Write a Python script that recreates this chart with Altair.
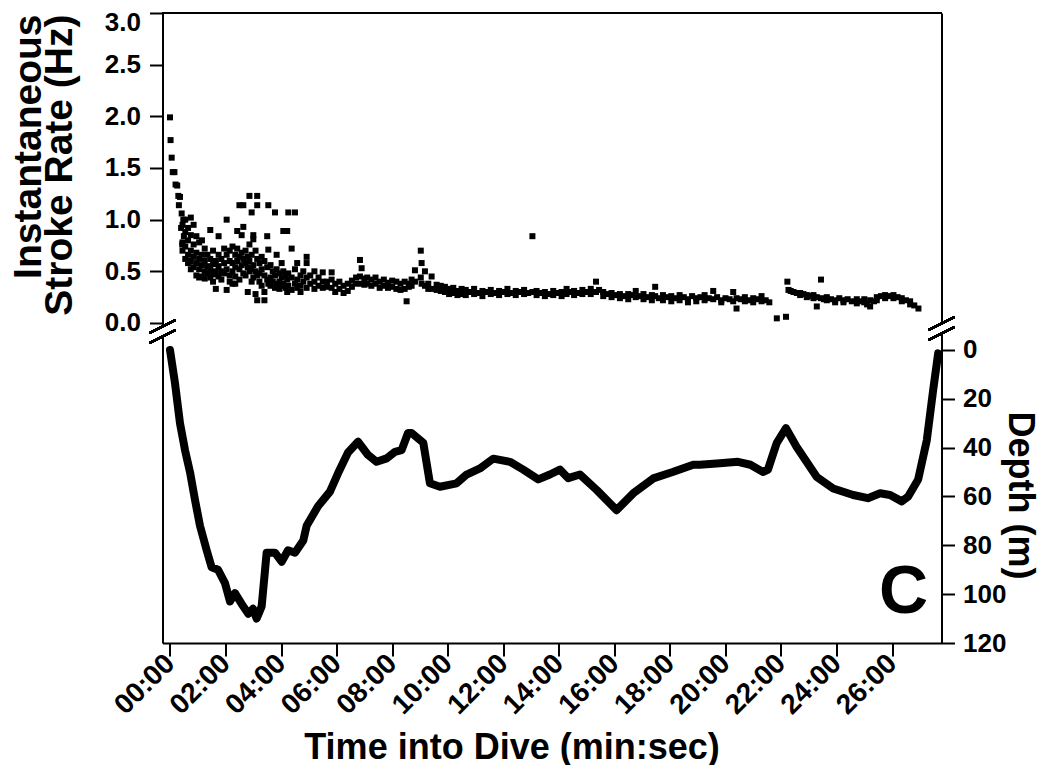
import altair as alt
import pandas as pd

# ---------------- data ----------------
# time in minutes into dive, stroke rate in Hz (grouped: time -> rates)
stroke_early = [
    (0.00, [1.99]), (0.02, [1.77]), (0.06, [1.60]), (0.10, [1.46]), (0.16, [1.46]),
    (0.20, [1.34]), (0.26, [1.33]), (0.30, [1.23]), (0.36, [1.22]), (0.32, [1.14]),
    (0.42, [1.06]), (0.48, [1.00]), (0.40, [0.92]), (0.50, [0.84]), (0.44, [0.76]),
    (0.45, [0.95, 0.78, 0.70]), (0.55, [1.00, 0.88, 0.74, 0.62]),
    (0.65, [0.92, 0.80, 0.66, 0.58]), (0.75, [1.02, 0.85, 0.70, 0.60, 0.52]),
    (0.85, [0.95, 0.76, 0.64, 0.54]), (0.95, [0.84, 0.68, 0.58, 0.46]),
    (1.05, [0.78, 0.62, 0.52, 0.44]), (1.15, [0.80, 0.66, 0.56, 0.45]),
    (1.25, [0.72, 0.60, 0.50, 0.43]), (1.35, [0.66, 0.55, 0.48]),
    (1.45, [0.90, 0.62, 0.52, 0.44]), (1.55, [0.70, 0.57, 0.47, 0.40]),
    (1.65, [0.60, 0.50, 0.33]), (1.75, [0.84, 0.66, 0.55, 0.45]),
    (1.85, [0.62, 0.50, 0.42]), (1.95, [0.72, 0.58, 0.48]),
    (2.04, [1.00, 0.66, 0.52, 0.32]), (2.15, [0.70, 0.60, 0.46, 0.40]),
    (2.25, [0.74, 0.58, 0.50, 0.38]), (2.35, [0.66, 0.54, 0.45, 0.38]),
    (2.42, [0.89, 0.72, 0.60]), (2.50, [1.14, 0.64, 0.52, 0.42]),
    (2.58, [0.85, 0.68, 0.56]), (2.64, [1.14, 0.93, 0.62, 0.48]),
    (2.72, [0.70, 0.58, 0.46]), (2.80, [0.64, 0.54, 0.30]),
    (2.86, [1.23, 0.76, 0.60, 0.50]), (2.94, [1.07, 0.66, 0.52, 0.40]),
    (3.00, [0.85, 0.81, 0.56, 0.44]), (3.08, [0.70, 0.50, 0.28]),
    (3.14, [1.23, 1.14, 0.62, 0.46, 0.22]), (3.22, [0.58, 0.48, 0.40]),
    (3.30, [0.64, 0.52, 0.36]), (3.40, [0.60, 0.46, 0.30, 0.22]),
    (3.50, [0.84, 0.54, 0.42]), (3.54, [1.14, 0.71, 0.38]),
    (3.62, [0.56, 0.44, 0.36]), (3.70, [0.50, 0.40]), (3.78, [1.07, 0.46, 0.34]),
    (3.84, [0.66, 0.52, 0.38]), (3.94, [0.48, 0.40, 0.33]),
    (4.02, [0.58, 0.44, 0.36]), (4.08, [0.89, 0.50, 0.38]), (4.16, [0.46, 0.34]),
    (4.22, [0.89, 0.42, 0.30]), (4.26, [1.07, 0.48, 0.36]),
    (4.38, [0.72, 0.44, 0.32]), (4.50, [1.07, 0.52, 0.38]),
    (4.58, [0.58, 0.42, 0.34]), (4.70, [0.46, 0.36, 0.30]), (4.80, [0.50, 0.40]),
    (4.92, [0.64, 0.58, 0.44, 0.34]),
]

stroke_middle = [
    (5.05, [0.46, 0.38]), (5.20, [0.50, 0.40, 0.33]), (5.35, [0.44, 0.36]),
    (5.50, [0.49, 0.40, 0.34]), (5.65, [0.40, 0.35]), (5.82, [0.49, 0.42, 0.34]),
    (5.95, [0.38, 0.30]), (6.10, [0.40, 0.33]), (6.25, [0.36, 0.29]),
    (6.40, [0.38, 0.31]), (6.55, [0.41, 0.35]), (6.70, [0.44, 0.38]),
    (6.84, [0.61, 0.45]), (6.90, [0.53, 0.38]), (7.00, [0.43, 0.37]),
    (7.10, [0.44, 0.38]), (7.25, [0.42, 0.36]), (7.40, [0.44, 0.38]),
    (7.55, [0.40, 0.34]), (7.70, [0.42, 0.36]), (7.85, [0.39, 0.34]),
    (8.00, [0.41, 0.35]), (8.15, [0.40, 0.33]), (8.30, [0.38, 0.32]),
    (8.45, [0.40, 0.33]), (8.52, [0.21]), (8.60, [0.38, 0.35]),
    (8.70, [0.42, 0.36]), (8.82, [0.51, 0.40]), (9.03, [0.70, 0.44]),
    (9.06, [0.58, 0.38]), (9.18, [0.50, 0.36]), (9.30, [0.38, 0.33]),
    (9.42, [0.45, 0.33]), (9.60, [0.37, 0.32]), (9.75, [0.36, 0.31]),
    (9.90, [0.35, 0.30]), (10.05, [0.33, 0.28]), (10.20, [0.34, 0.29]),
    (10.35, [0.31, 0.27]), (10.50, [0.33, 0.28]),
]

stroke_late = [
    (10.65, [0.32, 0.27]), (10.80, [0.30]), (10.95, [0.33, 0.28]), (11.10, [0.29]),
    (11.25, [0.31, 0.26]), (11.40, [0.30]), (11.55, [0.32, 0.28]), (11.70, [0.29]),
    (11.85, [0.31, 0.27]), (12.00, [0.30]), (12.15, [0.33, 0.28]), (12.30, [0.29]),
    (12.45, [0.31, 0.27]), (12.60, [0.30]), (12.75, [0.28, 0.32]), (12.90, [0.29]),
    (13.05, [0.84, 0.30]), (13.20, [0.27, 0.31]), (13.35, [0.29]),
    (13.50, [0.30, 0.26]), (13.65, [0.28]), (13.80, [0.31, 0.27]), (13.95, [0.29]),
    (14.10, [0.30, 0.26]), (14.28, [0.33, 0.28]), (14.40, [0.30]),
    (14.55, [0.27, 0.31]), (14.70, [0.29]), (14.85, [0.32, 0.28]), (15.00, [0.30]),
    (15.15, [0.33, 0.28]), (15.34, [0.40, 0.30]), (15.45, [0.32]),
    (15.60, [0.30, 0.26]), (15.75, [0.28]), (15.90, [0.29, 0.25]), (16.05, [0.27]),
    (16.20, [0.28, 0.24]), (16.35, [0.26]), (16.50, [0.28, 0.23]), (16.65, [0.27]),
    (16.77, [0.31, 0.25]), (16.90, [0.26]), (17.05, [0.28, 0.23]), (17.20, [0.25]),
    (17.35, [0.27, 0.22]), (17.47, [0.35, 0.26]), (17.60, [0.24]),
    (17.75, [0.27, 0.22]), (17.90, [0.25]), (18.05, [0.26, 0.21]), (18.20, [0.24]),
    (18.35, [0.27, 0.22]), (18.50, [0.25]), (18.65, [0.23, 0.20]), (18.80, [0.26]),
    (18.95, [0.24, 0.21]), (19.10, [0.25]), (19.25, [0.22, 0.27]), (19.40, [0.24]),
    (19.56, [0.31, 0.23]), (19.70, [0.25]), (19.85, [0.22, 0.20]), (20.00, [0.24]),
    (20.15, [0.23]), (20.28, [0.30, 0.21]), (20.40, [0.14, 0.24]), (20.55, [0.23]),
    (20.70, [0.21, 0.25]), (20.85, [0.22]), (21.00, [0.24, 0.20]), (21.15, [0.23]),
    (21.30, [0.26, 0.21]), (21.45, [0.22]), (21.58, [0.20]),
    (21.85, [0.045]), (22.18, [0.06]),
]

stroke_after_gap = [
    (22.23, [0.40]), (22.27, [0.32]), (22.35, [0.31]), (22.45, [0.30]),
    (22.57, [0.29]), (22.69, [0.29, 0.27]), (22.81, [0.28]), (22.93, [0.27, 0.25]),
    (23.05, [0.26]), (23.17, [0.24, 0.27]), (23.29, [0.16, 0.25]),
    (23.44, [0.42, 0.24]), (23.55, [0.23]), (23.65, [0.22, 0.25]), (23.80, [0.23]),
    (23.95, [0.22, 0.20]), (24.10, [0.24]), (24.25, [0.22, 0.20]), (24.40, [0.23]),
    (24.55, [0.21]), (24.73, [0.19, 0.23]), (24.85, [0.21]), (25.00, [0.20, 0.23]),
    (25.10, [0.18]), (25.21, [0.16, 0.22]), (25.35, [0.21]), (25.45, [0.22, 0.25]),
    (25.60, [0.26]), (25.75, [0.27, 0.24]), (25.90, [0.26]), (26.05, [0.27, 0.24]),
    (26.20, [0.25]), (26.35, [0.24, 0.21]), (26.50, [0.22]), (26.65, [0.21, 0.18]),
    (26.80, [0.17]), (26.95, [0.14]),
]

depth_time = [0.00, 0.18, 0.36, 0.54, 0.72, 0.90, 1.08, 1.32, 1.50, 1.73, 1.98, 2.16,
              2.34, 2.58, 2.82, 2.99, 3.12, 3.30, 3.48, 3.78, 4.02, 4.25, 4.50, 4.80,
              4.92, 5.33, 5.76, 6.05, 6.41, 6.77, 7.13, 7.44, 7.80, 8.10, 8.34, 8.57,
              8.70, 9.12, 9.36, 9.72, 10.32, 10.68, 11.16, 11.64, 12.24, 12.72, 13.26,
              13.68, 14.04, 14.34, 14.76, 15.37, 16.08, 16.68, 17.40, 18.10, 18.84,
              19.08, 19.80, 20.45, 20.90, 21.36, 21.53, 21.85, 22.18, 22.56, 23.29,
              23.88, 24.60, 25.13, 25.57, 25.93, 26.35, 26.58, 26.94, 27.25, 27.48,
              27.66]
depth_m = [0.0, 13.6, 30.0, 41.0, 50.0, 61.4, 72.0, 82.0, 89.0, 90.0, 95.5, 103.0,
           99.6, 104.0, 108.0, 106.0, 110.0, 105.0, 83.0, 83.0, 86.7, 82.0, 83.0, 78.0,
           72.0, 64.0, 58.0, 50.5, 42.0, 37.6, 43.0, 45.8, 44.4, 41.7, 41.0, 34.0,
           34.0, 38.0, 54.6, 56.0, 54.6, 51.0, 48.5, 44.5, 45.8, 49.0, 53.0,
           51.0, 49.0, 52.5, 51.0, 57.4, 65.6, 58.7, 52.6, 50.0, 47.0,
           47.0, 46.4, 45.8, 47.0, 50.0, 49.0, 38.0, 32.0, 39.6, 52.0,
           56.7, 59.4, 60.7, 58.7, 59.4, 62.0, 60.0, 53.0, 37.0, 16.4,
           1.4]

x_ticks = [0, 2, 4, 6, 8, 10, 12, 14, 16, 18, 20, 22, 24, 26]
rate_ticks = [0.0, 0.5, 1.0, 1.5, 2.0, 2.5, 3.0]
depth_ticks = [0, 20, 40, 60, 80, 100, 120]

# ---------------- tables ----------------
rows = []
for group in (stroke_early, stroke_middle, stroke_late, stroke_after_gap):
    for t, rates in group:
        for r in rates:
            rows.append({"t": t, "rate": r})
stroke_df = pd.DataFrame(rows)
depth_df = pd.DataFrame({"t": depth_time, "depth": depth_m})

W, H = 779, 630
FONT = "Liberation Sans"
TICK_FS = 26

x_scale = alt.Scale(domain=[-0.27, 27.78], nice=False, zero=False)
x_enc = alt.X(
    "t:Q", scale=x_scale,
    axis=alt.Axis(
        values=x_ticks, title="Time into Dive (min:sec)",
        labelExpr="(datum.value < 10 ? '0' : '') + datum.value + ':00'",
        labelAngle=-45, labelAlign="right", labelBaseline="middle",
        labelFontSize=28, labelPadding=3, tickSize=13, labelFlush=False,
        labelOverlap=False,
        titleFontSize=36, titleX=349, titleY=104, titleBaseline="middle",
        titleAlign="center",
    ),
)

points = alt.Chart(stroke_df).mark_square(size=36, color="black", opacity=1).encode(
    x=x_enc,
    y=alt.Y(
        "rate:Q",
        scale=alt.Scale(domain=[-3.097, 3.0], nice=False, zero=False),
        axis=alt.Axis(
            orient="left", values=rate_ticks, format=".1f",
            title=["Instantaneous", "Stroke Rate (Hz)"],
            labelFontSize=TICK_FS, tickSize=13, labelPadding=9,
            labelFlush=True, labelFlushOffset=4, labelOverlap=False,
            titleFontSize=39, titleX=-153, titleY=1, titleBaseline="top",
            titleAlign="right", titleAngle=-90, titleLineHeight=31,
        ),
    ),
)

line = alt.Chart(depth_df).mark_line(color="black", strokeWidth=8, strokeJoin="round",
                                     strokeCap="round").encode(
    x=alt.X("t:Q", scale=x_scale),
    y=alt.Y(
        "depth:Q",
        scale=alt.Scale(domain=[-138.0, 120.0], reverse=True, nice=False, zero=False),
        axis=alt.Axis(
            orient="right", values=depth_ticks, title="Depth (m)",
            labelFontSize=TICK_FS, tickSize=13, labelPadding=8, labelOverlap=False,
            titleFontSize=36, titleX=95, titleY=482, titleBaseline="top",
            titleAlign="center", titleAngle=90,
        ),
    ),
    order="t:Q",
)

# frame pieces and axis-break marks (decoration)
top_border = alt.Chart(stroke_df).mark_rule(color="black", strokeWidth=2).encode(
    x=alt.value(0), x2=alt.value(W), y=alt.value(0))
gap_left = alt.Chart(stroke_df).mark_rule(color="white", strokeWidth=6).encode(
    x=alt.value(0), y=alt.value(314), y2=alt.value(324))
gap_right = alt.Chart(stroke_df).mark_rule(color="white", strokeWidth=6).encode(
    x=alt.value(W), y=alt.value(311), y2=alt.value(322))
brk_l1 = alt.Chart(stroke_df).mark_rule(color="black", strokeWidth=2).encode(
    x=alt.value(-13), y=alt.value(320), x2=alt.value(13), y2=alt.value(307))
brk_l2 = alt.Chart(stroke_df).mark_rule(color="black", strokeWidth=2).encode(
    x=alt.value(-13), y=alt.value(330), x2=alt.value(13), y2=alt.value(317))
brk_r1 = alt.Chart(stroke_df).mark_rule(color="black", strokeWidth=2).encode(
    x=alt.value(W - 13), y=alt.value(317), x2=alt.value(W + 13), y2=alt.value(304))
brk_r2 = alt.Chart(stroke_df).mark_rule(color="black", strokeWidth=2).encode(
    x=alt.value(W - 13), y=alt.value(327), x2=alt.value(W + 13), y2=alt.value(314))

panel_label = alt.Chart(pd.DataFrame({"txt": ["C"]})).mark_text(
    font=FONT, fontWeight="bold", fontSize=68, color="black",
    align="center", baseline="middle").encode(
    x=alt.value(741), y=alt.value(580), text="txt:N")

chart = alt.layer(
    line, points, top_border, gap_left, gap_right,
    brk_l1, brk_l2, brk_r1, brk_r2, panel_label,
).resolve_scale(y="independent").properties(
    width=W, height=H,
    autosize=alt.AutoSizeParams(type="none"),
    padding={"left": 154.5, "top": 5, "right": 100.5, "bottom": 122},
).configure_view(stroke=None).configure_axis(
    grid=False, domainColor="black", domainWidth=2, tickColor="black", tickWidth=2,
    labelColor="black", titleColor="black", labelFont=FONT, titleFont=FONT,
    labelFontWeight="bold", titleFontWeight="bold",
)

chart.save("out.html", embed_options={"renderer": "svg", "actions": False})
